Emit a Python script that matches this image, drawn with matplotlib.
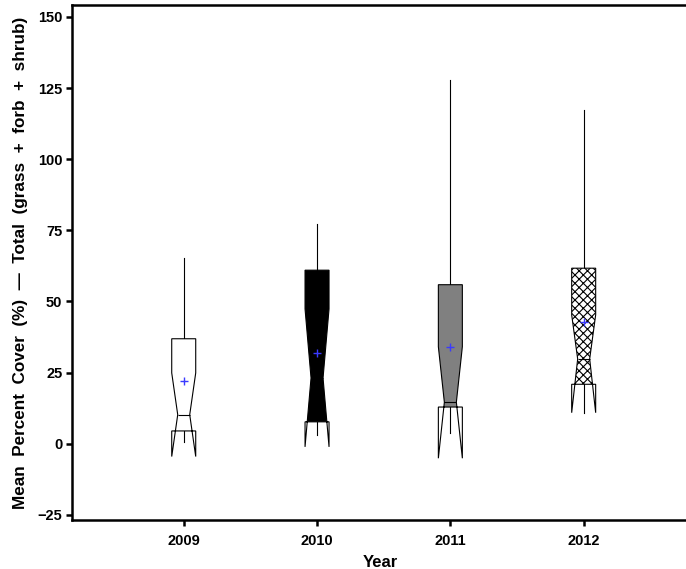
import matplotlib
matplotlib.use("Agg")
import matplotlib.pyplot as plt
from matplotlib.patches import PathPatch, Rectangle

plt.rcParams['font.family'] = ['Liberation Sans', 'DejaVu Sans']
plt.rcParams['hatch.linewidth'] = 0.8

years = ['2009', '2010', '2011', '2012']
q1 = [4.5, 7.7, 12.9, 20.9]
med = [10.2, 23.1, 14.6, 29.8]
q3 = [36.9, 61.0, 55.9, 61.7]
whislo = [0.7, 3.1, 3.7, 10.9]
whishi = [65.3, 77.2, 127.8, 117.3]
cilo = [-4.5, -1.1, -5.1, 10.9]
cihi = [24.9, 47.4, 34.1, 45.3]
means = [22.1, 31.8, 34.1, 42.7]
fills = ['white', 'black', '#808080', 'white']
hatches = ['', '', '', 'xxxx']
yticks = [-25, 0, 25, 50, 75, 100, 125, 150]

stats = []
for i in range(len(years)):
    stats.append(dict(med=med[i], q1=q1[i], q3=q3[i], whislo=whislo[i],
                      whishi=whishi[i], cilo=cilo[i], cihi=cihi[i],
                      mean=means[i], fliers=[], label=years[i]))

W, H = 686, 569
fig = plt.figure(figsize=(W / 100, H / 100), dpi=100)
ax = fig.add_axes([72 / W, 1 - 520 / H, (689 - 72) / W, (520 - 5) / H])

positions = list(range(1, len(years) + 1))
bw = 0.18
bp = ax.bxp(stats, positions=positions, widths=bw, shownotches=True,
            showmeans=True, showcaps=False, showfliers=False, patch_artist=True,
            boxprops=dict(linewidth=0.8, edgecolor='black', facecolor='none'),
            whiskerprops=dict(linewidth=0.8, color='black'),
            medianprops=dict(linewidth=0.8, color='black'),
            meanprops=dict(marker='+', markeredgecolor='#3a3aff', markersize=6,
                           markeredgewidth=1.0))
for i, box in enumerate(bp['boxes']):
    box.set_zorder(3)
    # fill only the part of the notched box between Q1 and Q3
    clip = Rectangle((positions[i] - bw / 2, q1[i]), bw, q3[i] - q1[i],
                     transform=ax.transData, visible=False)
    ax.add_patch(clip)
    filled = PathPatch(box.get_path(), transform=box.get_transform(),
                       facecolor=fills[i], edgecolor='black', linewidth=0,
                       hatch=hatches[i], zorder=2)
    ax.add_patch(filled)
    filled.set_clip_path(clip)
for m in bp['means']:
    m.set_zorder(5)

ax.set_xlim(0.162, 4.79)
ax.set_ylim(-26.8, 154.2)
ax.set_yticks(yticks)
ax.set_yticklabels([str(t).replace('-', '\u2212') for t in yticks])
ax.set_xticks(positions)
ax.set_xticklabels(years)

for s in ax.spines.values():
    s.set_linewidth(1.8)
ax.tick_params(axis='both', direction='out', length=4, width=1.8, labelsize=10.5)
ax.tick_params(axis='x', pad=6)
ax.tick_params(axis='y', pad=3)
for lab in ax.get_xticklabels() + ax.get_yticklabels():
    lab.set_fontweight('bold')

ax.set_xlabel('Year', fontsize=12, fontweight='bold', labelpad=5)
ax.set_ylabel('Mean  Percent  Cover  (%)  \u2014  Total  (grass  +  forb  +  shrub)',
              fontsize=12.3, fontweight='bold', labelpad=7)

fig.savefig('out.png', dpi=100)
